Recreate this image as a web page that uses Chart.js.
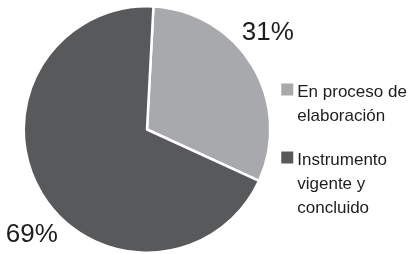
<!DOCTYPE html>
<html>
<head>
<meta charset="utf-8">
<script src="https://cdn.jsdelivr.net/npm/chart.js@4"></script>
<style>
html,body{margin:0;padding:0;background:#fff;}
#wrap{position:relative;width:412px;height:254px;}
</style>
</head>
<body>
<div id="wrap"><canvas id="c" width="412" height="254"></canvas></div>
<script>
const categories = ["En proceso de elaboración", "Instrumento vigente y concluido"];
const legendLines = [["En proceso de", "elaboración"], ["Instrumento", "vigente y", "concluido"]];
const values = [31, 69];
const valueLabels = ["31%", "69%"];
const colors = ["#a7a9ac", "#58595b"];

const FONT = "'Liberation Sans', Arial, sans-serif";

const overlay = {
  id: 'overlay',
  afterDraw(chart) {
    const ctx = chart.ctx;
    const meta = chart.getDatasetMeta(0);
    const arc = meta.data[0];
    const cx = arc.x, cy = arc.y, r = arc.outerRadius;
    ctx.save();
    ctx.fillStyle = '#1f1c1d';
    ctx.textBaseline = 'alphabetic';
    ctx.font = '26px ' + FONT;
    ctx.textAlign = 'center';
    ctx.fillText(valueLabels[0], cx + r * 0.98, cy - r * 0.73);
    ctx.fillText(valueLabels[1], cx - r * 0.935, cy + r * 0.91);
    const lx = cx + r + 11;
    const tops = [cy - 46, cy + 22];
    ctx.font = '17px ' + FONT;
    ctx.textAlign = 'left';
    legendLines.forEach((lines, i) => {
      ctx.fillStyle = colors[i];
      ctx.fillRect(lx, tops[i], 12, 12);
      ctx.fillStyle = '#1f1c1d';
      lines.forEach((ln, j) => {
        ctx.fillText(ln, lx + 16, tops[i] + 13 + j * 24);
      });
    });
    ctx.restore();
  }
};

new Chart(document.getElementById('c'), {
  type: 'pie',
  data: {
    labels: categories,
    datasets: [{
      data: values,
      backgroundColor: colors,
      borderColor: '#ffffff',
      borderWidth: 2.5,
      hoverOffset: 0
    }]
  },
  options: {
    responsive: false,
    animation: false,
    rotation: 3,
    layout: { padding: { left: 22, right: 140, top: 5, bottom: -2 } },
    plugins: { legend: { display: false }, tooltip: { enabled: false } }
  },
  plugins: [overlay]
});
</script>
</body>
</html>
